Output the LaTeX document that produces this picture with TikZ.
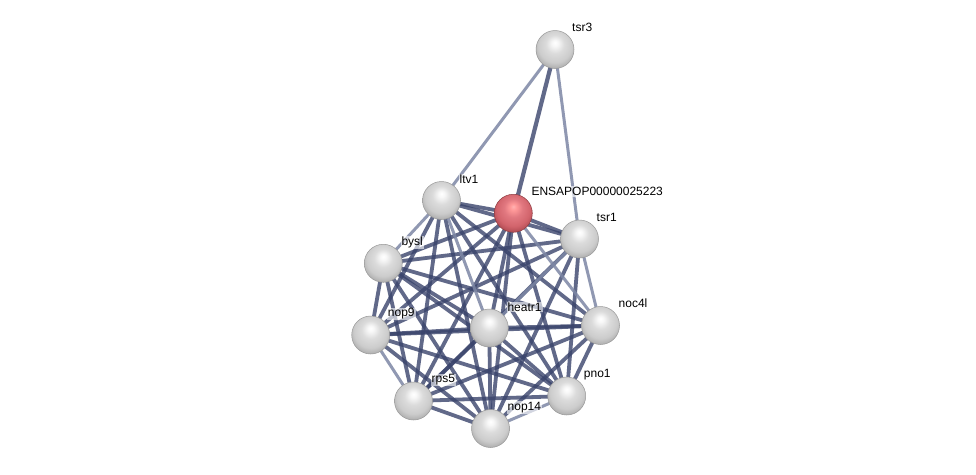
\documentclass[tikz,border=0pt]{standalone}
\usepackage{fontspec}
\setmainfont{Liberation Sans}
\pgfdeclareradialshading{gball}{\pgfpoint{0bp}{9bp}}{color(0bp)=(white); color(4bp)=(white!97!black); color(12bp)=(white!86!black); color(22bp)=(white!80!black); color(30bp)=(white!66!black); color(50bp)=(white!55!black)}
\pgfdeclareradialshading{rball}{\pgfpoint{0bp}{9bp}}{color(0bp)=(white!70!red); color(4bp)=(white!60!red); color(12bp)=({rgb,255:red,225;green,120;blue,128}); color(22bp)=({rgb,255:red,210;green,100;blue,108}); color(30bp)=({rgb,255:red,170;green,70;blue,78}); color(50bp)=({rgb,255:red,140;green,50;blue,58})}
\begin{document}
\begin{tikzpicture}[x=1pt,y=-1pt,
  ball/.style={circle,minimum size=38pt,inner sep=0pt,shading=gball,draw=black!40,line width=0.5pt},
  redball/.style={ball,shading=rball,draw={rgb,255:red,140;green,60;blue,65}},
  edge/.style={draw={rgb,255:red,58;green,68;blue,108},line width=3.8pt,draw opacity=0.8},
  ledge/.style={draw={rgb,255:red,125;green,135;blue,165},line width=3pt,draw opacity=0.85},
  lbl/.style={anchor=west,font=\fontsize{12}{14}\selectfont,inner sep=1pt,fill=white,fill opacity=0.6,text opacity=1}]
\useasboundingbox (0,0) rectangle (976,474);
\fill[white] (0,0) rectangle (976,474);
% coordinates
\coordinate (tsr3) at (555,49.5);
\coordinate (ltv1) at (441.5,200.5);
\coordinate (ens) at (513.3,213.3);
\coordinate (tsr1) at (579.5,239);
\coordinate (bysl) at (383.3,263.3);
\coordinate (noc4l) at (600.5,325.5);
\coordinate (nop9) at (370.7,335);
\coordinate (heatr1) at (489.3,328);
\coordinate (pno1) at (566.7,396);
\coordinate (rps5) at (413.5,401);
\coordinate (nop14) at (490.5,428.5);
% edges
\draw[ledge] (tsr3) -- (ltv1);
\draw[ledge] (tsr3) -- (tsr1);
\draw[edge,line width=4.2pt] (tsr3) -- (ens);
\foreach \a/\b in {ltv1/ens,ltv1/tsr1,ltv1/noc4l,ltv1/nop9,ltv1/pno1,ltv1/rps5,ltv1/nop14,
  ens/tsr1,ens/bysl,ens/nop9,ens/heatr1,ens/pno1,ens/rps5,ens/nop14,
  tsr1/bysl,tsr1/nop9,tsr1/pno1,tsr1/rps5,tsr1/nop14,
  bysl/noc4l,bysl/nop9,bysl/heatr1,bysl/pno1,bysl/rps5,bysl/nop14,
  noc4l/nop9,noc4l/heatr1,noc4l/pno1,noc4l/rps5,noc4l/nop14,
  nop9/heatr1,nop9/pno1,nop9/nop14,
  heatr1/pno1,heatr1/rps5,heatr1/nop14,
  pno1/rps5,rps5/nop14}
  {\draw[edge] (\a) -- (\b);}
\foreach \a/\b in {ltv1/bysl,ltv1/heatr1,ens/noc4l,tsr1/heatr1,tsr1/noc4l,nop9/rps5,pno1/nop14}
  {\draw[ledge] (\a) -- (\b);}
% nodes
\node[ball] (ntsr3) at (tsr3) {};
\node[ball] (nltv1) at (ltv1) {};
\node[redball] (nens) at (ens) {};
\node[ball] (ntsr1) at (tsr1) {};
\node[ball] (nbysl) at (bysl) {};
\node[ball] (nnoc4l) at (noc4l) {};
\node[ball] (nnop9) at (nop9) {};
\node[ball] (nheatr1) at (heatr1) {};
\node[ball] (npno1) at (pno1) {};
\node[ball] (nrps5) at (rps5) {};
\node[ball] (nnop14) at (nop14) {};
% labels
\node[lbl] (ltsr3) at ([xshift=16,yshift=22]tsr3) {tsr3};
\node[lbl] (lltv1) at ([xshift=17,yshift=21]ltv1) {ltv1};
\node[lbl] (lens) at ([xshift=17,yshift=22]ens) {ENSAPOP00000025223};
\node[lbl] (ltsr1) at ([xshift=16,yshift=22]tsr1) {tsr1};
\node[lbl] (lbysl) at ([xshift=17,yshift=21]bysl) {bysl};
\node[lbl] (lnoc4l) at ([xshift=17,yshift=22]noc4l) {noc4l};
\node[lbl] (lnop9) at ([xshift=16,yshift=21]nop9) {nop9};
\node[lbl] (lheatr1) at ([xshift=17,yshift=21]heatr1) {heatr1};
\node[lbl] (lpno1) at ([xshift=16,yshift=21]pno1) {pno1};
\node[lbl] (lrps5) at ([xshift=17,yshift=21]rps5) {rps5};
\node[lbl] (lnop14) at ([xshift=16,yshift=21]nop14) {nop14};
\end{tikzpicture}
\end{document}
